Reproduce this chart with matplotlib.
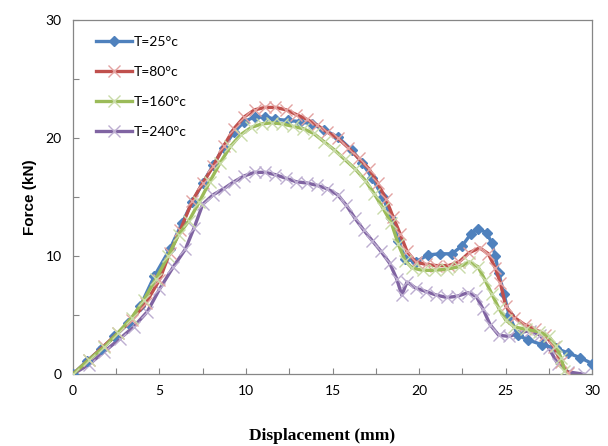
import matplotlib
matplotlib.use("Agg")
import matplotlib.pyplot as plt
from matplotlib.ticker import MultipleLocator

# force-displacement curves at four temperatures
x_25 = [0, 0.8, 1.6, 2.4, 3.2, 3.9, 4.7, 5.6, 6.3, 6.9, 7.5, 8.1, 8.7, 9.3, 9.9, 10.5,
        11.1, 11.7, 12.4, 13.1, 13.8, 14.5, 15.3, 16.1, 16.7, 17.3, 17.9, 18.4, 18.8,
        19.2, 19.8, 20.5, 21.2, 21.9, 22.5, 23.0, 23.4, 23.9, 24.2, 24.4, 24.6, 24.9,
        25.2, 25.7, 26.3, 27.1, 27.9, 28.6, 29.3, 30.0]
y_25 = [0, 1.1, 2.1, 3.2, 4.3, 5.8, 8.3, 10.6, 12.8, 14.6, 16.2, 17.7, 19.2, 20.5, 21.4,
        21.8, 21.8, 21.6, 21.5, 21.4, 21.2, 20.7, 20.1, 19.0, 17.9, 16.6, 15.0, 13.2,
        11.3, 9.8, 9.5, 10.1, 10.2, 10.2, 10.9, 11.9, 12.3, 12.0, 11.1, 10.0, 8.6, 6.8,
        5.0, 3.3, 2.9, 2.5, 2.2, 1.8, 1.4, 0.9]

x_80 = [0, 0.9, 1.8, 2.6, 3.4, 4.2, 5.0, 5.6, 6.2, 6.9, 7.5, 8.1, 8.7, 9.3, 9.9, 10.5,
        11.1, 11.7, 12.3, 12.9, 13.5, 14.1, 14.7, 15.3, 15.9, 16.5, 17.1, 17.6, 18.1,
        18.5, 18.9, 19.3, 19.8, 20.4, 21.0, 21.7, 22.3, 22.9, 23.5, 24.0, 24.4, 24.7,
        25.0, 25.5, 26.1, 26.7, 27.3, 27.8, 28.2, 28.6]
y_80 = [0, 1.2, 2.4, 3.5, 4.6, 6.0, 8.0, 10.3, 12.2, 14.7, 16.2, 17.6, 19.3, 20.8, 21.8,
        22.4, 22.6, 22.6, 22.4, 22.0, 21.6, 21.1, 20.5, 20.0, 19.2, 18.3, 17.4, 16.2,
        14.8, 13.3, 11.9, 10.4, 9.5, 9.3, 9.2, 9.2, 9.5, 10.3, 10.7, 10.2, 9.0, 7.7,
        5.8, 4.8, 4.2, 3.8, 3.3, 2.3, 1.0, 0.1]

x_160 = [0, 0.9, 1.8, 2.6, 3.4, 4.1, 4.8, 5.5, 6.1, 6.7, 7.3, 7.9, 8.5, 9.1, 9.7, 10.3,
         10.9, 11.5, 12.1, 12.7, 13.3, 13.9, 14.5, 15.1, 15.7, 16.3, 16.9, 17.4, 17.9,
         18.4, 18.8, 19.2, 19.6, 20.2, 20.9, 21.6, 22.3, 22.9, 23.4, 23.8, 24.2, 24.6,
         25.0, 25.5, 26.2, 26.9, 27.5, 27.9, 28.2, 28.4]
y_160 = [0, 1.2, 2.3, 3.5, 4.8, 6.3, 8.1, 10.0, 11.8, 13.0, 14.6, 16.3, 17.9, 19.3, 20.3,
         20.9, 21.2, 21.3, 21.2, 21.0, 20.8, 20.4, 19.7, 19.0, 18.2, 17.4, 16.4, 15.3,
         14.1, 12.8, 11.0, 9.6, 9.0, 8.8, 8.8, 8.9, 9.1, 9.5, 9.1, 8.0, 6.8, 5.6, 4.6,
         4.0, 3.8, 3.6, 3.2, 2.4, 1.4, 0.3]

x_240 = [0, 0.9, 1.8, 2.7, 3.5, 4.3, 5.0, 5.8, 6.5, 7.0, 7.5, 8.1, 8.7, 9.3, 9.9, 10.5,
         11.1, 11.7, 12.3, 12.9, 13.5, 14.1, 14.7, 15.3, 15.8, 16.3, 16.8, 17.3, 17.8,
         18.3, 18.7, 19.0, 19.3, 19.8, 20.4, 21.0, 21.6, 22.2, 22.8, 23.3, 23.7, 24.1,
         24.6, 25.2, 25.8, 26.4, 27.0, 27.5, 28.0, 28.6, 29.5]
y_240 = [0, 0.8, 1.9, 3.0, 4.0, 5.3, 7.2, 9.1, 10.6, 12.4, 14.4, 15.2, 15.7, 16.3, 16.8,
         17.1, 17.1, 16.9, 16.6, 16.3, 16.2, 16.0, 15.7, 15.2, 14.3, 13.2, 12.2, 11.3,
         10.4, 9.4, 8.1, 6.7, 7.8, 7.3, 7.0, 6.7, 6.5, 6.6, 6.9, 6.6, 5.5, 4.2, 3.3, 3.2,
         3.5, 3.7, 3.3, 2.2, 0.9, 0.2, 0.0]

labels = ["T=25°c", "T=80°c", "T=160°c", "T=240°c"]

fig = plt.figure(figsize=(6.08, 4.46), dpi=100)
ax = fig.add_axes([0.120, 0.161, 0.854, 0.794])

ax.plot(x_25, y_25, color="#4F81BD", lw=2.4, marker="D", ms=5,
        mfc="#4F81BD", mec="#4F81BD", label=labels[0], zorder=3)
ax.plot(x_80, y_80, color="#C0504D", lw=2.4, marker="x", ms=8, mew=1,
        mec="#E3A3A1", label=labels[1], zorder=4)
ax.plot(x_160, y_160, color="#9BBB59", lw=2.4, marker="x", ms=8, mew=1,
        mec="#C9DBA8", label=labels[2], zorder=5)
ax.plot(x_240, y_240, color="#8064A2", lw=2.4, marker="x", ms=8, mew=1,
        mec="#BDAED1", label=labels[3], zorder=2)

ax.set_xlim(0, 30)
ax.set_ylim(0, 30)
ax.xaxis.set_major_locator(MultipleLocator(5))
ax.xaxis.set_minor_locator(MultipleLocator(2.5))
ax.yaxis.set_major_locator(MultipleLocator(10))
ax.yaxis.set_minor_locator(MultipleLocator(5))
ax.tick_params(which="both", direction="in", length=4, width=0.8, color="#868686")
ax.tick_params(labelsize=10, pad=8)
for lab in ax.get_xticklabels() + ax.get_yticklabels():
    lab.set_fontfamily("Lato")
for sp in ax.spines.values():
    sp.set_color("#868686")
    sp.set_linewidth(0.9)

ax.set_ylabel("Force (kN)", fontsize=11, fontweight="bold",
              fontfamily="Liberation Sans", labelpad=6)
fig.text(0.53, 0.005, "Displacement (mm)", ha="center", va="bottom",
         fontsize=12.5, fontweight="bold", fontfamily="Liberation Serif")

leg = ax.legend(loc="upper left", bbox_to_anchor=(0.02, 0.99), frameon=False,
                handlelength=2.6, handletextpad=0.1, labelspacing=1.3,
                prop={"family": "Lato", "size": 10})

fig.savefig("out.png", dpi=100)
